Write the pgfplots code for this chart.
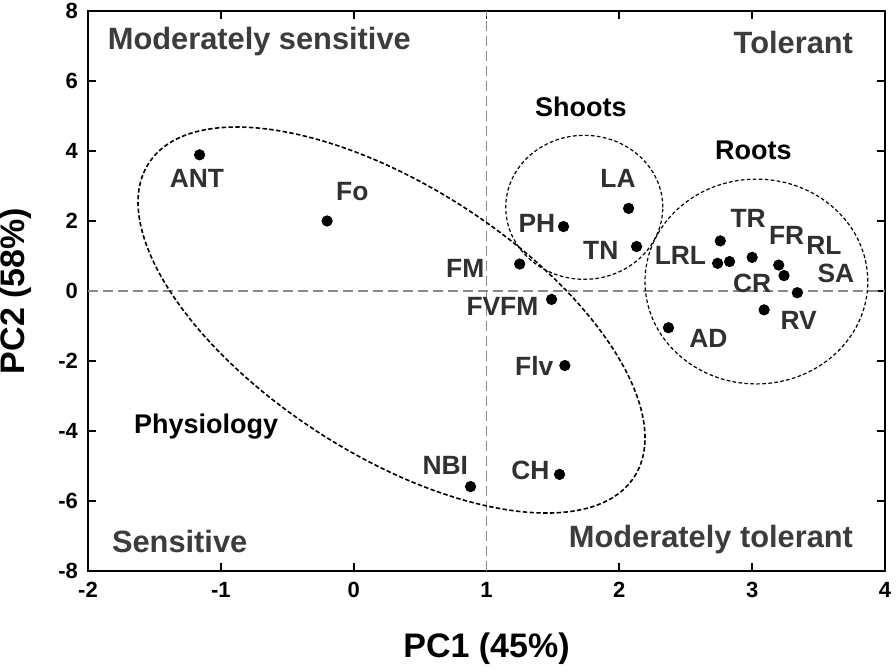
\documentclass[border=0pt]{standalone}
\usepackage{fontspec}
\setmainfont{Liberation Sans}
\usepackage{pgfplots}
\pgfplotsset{compat=1.18}
\definecolor{quad}{HTML}{3C3C3C}
\definecolor{ptlab}{HTML}{303030}
\definecolor{refgray}{HTML}{8A8A8A}
\begin{document}
\begin{tikzpicture}
\path[use as bounding box] (0,0) rectangle (448pt,336pt);
\begin{axis}[
  at={(44pt,50.5pt)}, anchor=south west,
  scale only axis, width=398.5pt, height=280pt,
  xmin=-2, xmax=4, ymin=-8, ymax=8,
  xtick={-2,-1,0,1,2,3,4}, ytick={-8,-6,-4,-2,0,2,4,6,8},
  tick align=inside, major tick length=4pt,
  axis line style={line width=1pt},
  every tick/.style={line width=0.9pt, black},
  /pgf/number format/assume math mode=true,
  every tick label/.append style={font=\fontsize{11}{13}\selectfont\bfseries},
  xticklabel style={yshift=-2pt},
  yticklabel style={xshift=-1.5pt},
  xlabel={PC1 (45\%)}, ylabel={PC2 (58\%)},
  every axis label/.append style={font=\fontsize{17}{19}\selectfont\bfseries},
  xlabel style={at={(axis description cs:0.5,-0.1393)}, anchor=center},
  ylabel style={at={(axis description cs:-0.0903,0.5)}, anchor=center},
  clip=false,
]
% reference lines
\addplot[refgray, line width=0.6pt, dash pattern=on 5pt off 2.5pt] coordinates {(1,-8) (1,8)};
\addplot[refgray, line width=0.6pt, dash pattern=on 5pt off 2.5pt] coordinates {(-2,0) (4,0)};

% group ellipses
\draw[black, line width=0.8pt, dash pattern=on 2.2pt off 1.2pt,
      rotate around={-32.85:(axis cs:0.285,-0.83)}]
      (axis cs:0.285,-0.83) ellipse [x radius=144.5pt, y radius=67pt];
\draw[black, line width=0.6pt, dash pattern=on 1.8pt off 1.2pt]
      (axis cs:1.736,2.39) ellipse [x radius=39.25pt, y radius=36pt];
\draw[black, line width=0.6pt, dash pattern=on 1.8pt off 1.2pt]
      (axis cs:3.032,0.27) ellipse [x radius=55.7pt, y radius=51.2pt];

% data points
\addplot[only marks, mark=*, mark size=2.6pt, black] table {
x y
-1.16 3.89
-0.20 2.00
2.07 2.36
1.58 1.84
2.13 1.27
1.25 0.77
1.49 -0.24
1.59 -2.13
2.37 -1.05
2.76 1.43
2.74 0.79
2.83 0.84
3.00 0.96
3.20 0.74
3.24 0.44
3.34 -0.05
3.09 -0.54
1.55 -5.24
0.88 -5.59
};

% point labels
\tikzset{lab/.style={font=\fontsize{13.2}{15}\selectfont\bfseries, text=ptlab, inner sep=0pt}}
\node[lab] at (axis cs:-1.18,3.23) {ANT};
\node[lab] at (axis cs:-0.01,2.83) {Fo};
\node[lab] at (axis cs:1.99,3.22) {LA};
\node[lab] at (axis cs:1.38,1.93) {PH};
\node[lab] at (axis cs:1.86,1.15) {TN};
\node[lab] at (axis cs:0.84,0.65) {FM};
\node[lab] at (axis cs:1.12,-0.43) {FVFM};
\node[lab] at (axis cs:1.36,-2.14) {Flv};
\node[lab] at (axis cs:2.67,-1.35) {AD};
\node[lab] at (axis cs:2.97,2.08) {TR};
\node[lab] at (axis cs:2.46,1.03) {LRL};
\node[lab] at (axis cs:3.26,1.60) {FR};
\node[lab] at (axis cs:3.54,1.31) {RL};
\node[lab] at (axis cs:3.63,0.51) {SA};
\node[lab] at (axis cs:3.00,0.22) {CR};
\node[lab] at (axis cs:3.35,-0.83) {RV};
\node[lab] at (axis cs:1.33,-5.14) {CH};
\node[lab] at (axis cs:0.69,-4.97) {NBI};

% group labels
\tikzset{grp/.style={font=\fontsize{13.5}{15}\selectfont\bfseries, text=black, inner sep=0pt}}
\node[grp] at (axis cs:1.71,5.27) {Shoots};
\node[grp] at (axis cs:3.01,4.03) {Roots};
\node[grp] at (axis cs:-1.11,-3.88) {Physiology};

% quadrant labels
\tikzset{qd/.style={font=\fontsize{15.4}{17}\selectfont\bfseries, text=quad, inner sep=0pt}}
\node[qd] at (axis cs:-0.71,7.12) {Moderately sensitive};
\node[qd] at (axis cs:3.31,7.11) {Tolerant};
\node[qd] at (axis cs:2.69,-7.11) {Moderately tolerant};
\node[qd] at (axis cs:-1.31,-7.16) {Sensitive};
\end{axis}
\end{tikzpicture}
\end{document}
